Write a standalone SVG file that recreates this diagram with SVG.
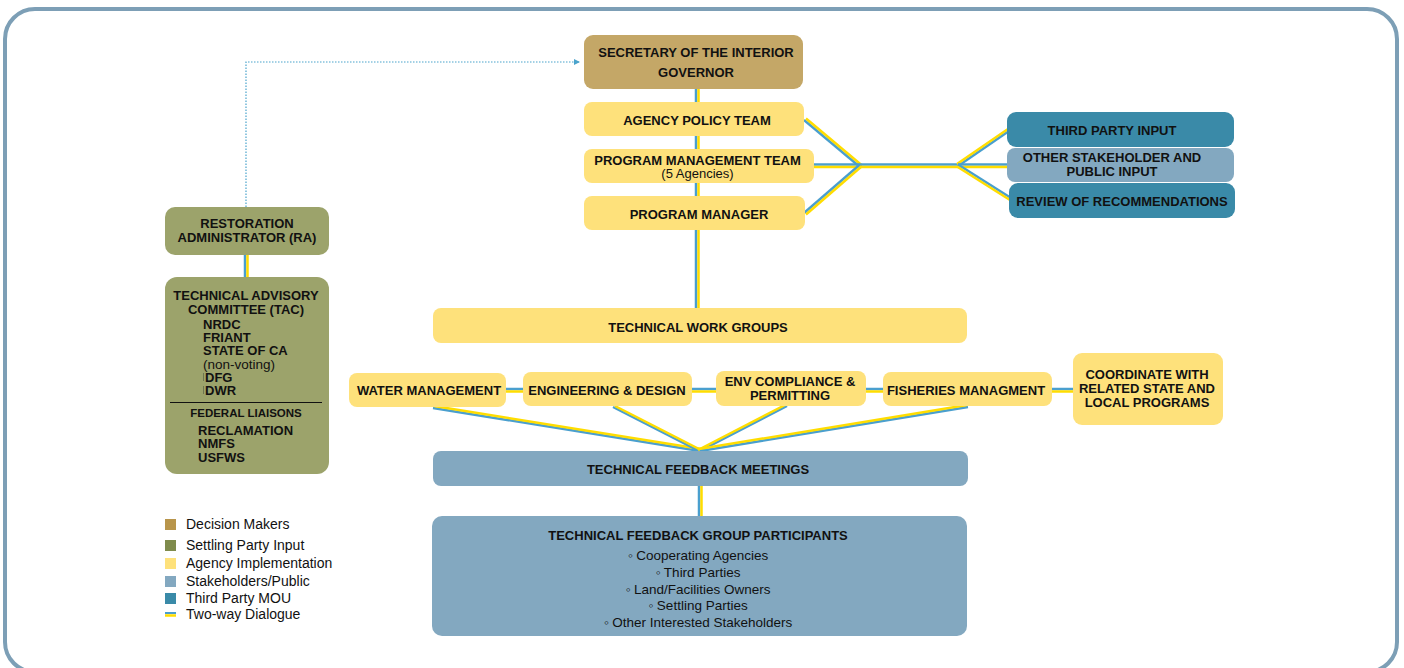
<svg xmlns="http://www.w3.org/2000/svg" width="1404" height="668" viewBox="0 0 1404 668">
<defs>
<marker id="arr" markerWidth="6" markerHeight="6" refX="5" refY="3" orient="auto" markerUnits="userSpaceOnUse">
<path d="M0,0 L6,3 L0,6 Z" fill="#4aa3cc"/>
</marker>
<style>
.t{font-family:"Liberation Sans",Arial,sans-serif;font-weight:bold;font-size:13px;fill:#111;text-anchor:middle}
.r{font-family:"Liberation Sans",Arial,sans-serif;font-size:13.5px;fill:#111;text-anchor:middle}
.s{font-family:"Liberation Sans",Arial,sans-serif;font-size:13px;fill:#111;text-anchor:middle}
.l{text-anchor:start}
.lg{font-family:"Liberation Sans",Arial,sans-serif;font-size:14px;fill:#111}
.dm{fill:#c4a767}
.sp{fill:#9ca36b}
.ai{fill:#fee17b}
.sh{fill:#83a8c0}
.tp{fill:#3a8aa8}
.b{stroke:#4a9fce;stroke-width:2.5;fill:none}
.y{stroke:#ffdd00;stroke-width:2.5;fill:none}
</style>
</defs>
<rect x="5" y="9" width="1392" height="663" rx="30" fill="#fff" stroke="#7d9fb6" stroke-width="4"/>

<g id="connectors">
<path d="M246,207 V62 H579" stroke="#4aa3cc" stroke-width="1.2" stroke-dasharray="1.5 1.5" fill="none" marker-end="url(#arr)"/>
<line class="b" x1="696" y1="89" x2="696" y2="308"/>
<line class="y" x1="698.5" y1="89" x2="698.5" y2="308"/>
<line class="b" x1="245" y1="255" x2="245" y2="277"/>
<line class="y" x1="247.5" y1="255" x2="247.5" y2="277"/>
<line class="b" x1="699" y1="486" x2="699" y2="516"/>
<line class="y" x1="701.5" y1="486" x2="701.5" y2="516"/>
<line class="b" x1="804" y1="120" x2="860" y2="167"/>
<line class="y" x1="806" y1="118.5" x2="862" y2="165.5"/>
<line class="b" x1="813" y1="164.5" x2="860" y2="164.5"/>
<line class="y" x1="813" y1="167" x2="860" y2="167"/>
<line class="b" x1="804" y1="213" x2="860" y2="164.5"/>
<line class="y" x1="806" y1="214.5" x2="862" y2="166"/>
<line class="b" x1="860" y1="164.5" x2="958" y2="164.5"/>
<line class="y" x1="860" y1="167" x2="958" y2="167"/>
<line class="b" x1="958" y1="166" x2="1009" y2="131"/>
<line class="y" x1="957" y1="164" x2="1008" y2="129"/>
<line class="b" x1="958" y1="164.5" x2="1008" y2="164.5"/>
<line class="y" x1="958" y1="167" x2="1008" y2="167"/>
<line class="b" x1="958" y1="164.5" x2="1011" y2="198"/>
<line class="y" x1="957" y1="166.5" x2="1010" y2="200"/>
<line class="b" x1="505" y1="389" x2="524" y2="389"/>
<line class="y" x1="505" y1="391.5" x2="524" y2="391.5"/>
<line class="b" x1="691" y1="389" x2="717" y2="389"/>
<line class="y" x1="691" y1="391.5" x2="717" y2="391.5"/>
<line class="b" x1="865" y1="389" x2="884" y2="389"/>
<line class="y" x1="865" y1="391.5" x2="884" y2="391.5"/>
<line class="b" x1="1051" y1="389" x2="1074" y2="389"/>
<line class="y" x1="1051" y1="391.5" x2="1074" y2="391.5"/>
<line class="b" x1="433" y1="408" x2="700" y2="451"/>
<line class="y" x1="434" y1="406" x2="701" y2="449"/>
<line class="b" x1="613" y1="407" x2="699" y2="451"/>
<line class="y" x1="615" y1="406" x2="701" y2="450"/>
<line class="b" x1="787" y1="406" x2="700" y2="451"/>
<line class="y" x1="785" y1="405" x2="698" y2="450"/>
<line class="b" x1="968" y1="407" x2="700" y2="451"/>
<line class="y" x1="967" y1="405" x2="699" y2="449"/>
</g>

<g id="secretary"><rect class="dm" x="584" y="35" width="219" height="54" rx="9"/>
<text class="t" x="696" y="57">SECRETARY OF THE INTERIOR</text><text class="t" x="696" y="77">GOVERNOR</text></g>
<g id="agency-policy-team"><rect class="ai" x="584" y="102" width="220" height="34" rx="8"/>
<text class="t" x="697" y="125">AGENCY POLICY TEAM</text></g>
<g id="program-management-team"><rect class="ai" x="584" y="149" width="230" height="34" rx="8"/>
<text class="t" x="697.5" y="165">PROGRAM MANAGEMENT TEAM</text><text class="s" x="697.5" y="178">(5 Agencies)</text></g>
<g id="program-manager"><rect class="ai" x="584" y="196" width="221" height="34" rx="8"/>
<text class="t" x="699" y="219">PROGRAM MANAGER</text></g>
<g id="technical-work-groups"><rect class="ai" x="433" y="308" width="534" height="35" rx="8"/>
<text class="t" x="698" y="332">TECHNICAL WORK GROUPS</text></g>
<g id="water-management"><rect class="ai" x="349" y="373" width="157" height="34" rx="8"/>
<text class="t" x="429" y="395">WATER MANAGEMENT</text></g>
<g id="engineering-design"><rect class="ai" x="523" y="372" width="169" height="34" rx="8"/>
<text class="t" x="607" y="395">ENGINEERING &amp; DESIGN</text></g>
<g id="env-compliance"><rect class="ai" x="716" y="371" width="150" height="35" rx="8"/>
<text class="t" x="790" y="386">ENV COMPLIANCE &amp;</text><text class="t" x="790" y="400">PERMITTING</text></g>
<g id="fisheries-management"><rect class="ai" x="883" y="372" width="169" height="34" rx="8"/>
<text class="t" x="966" y="395">FISHERIES MANAGMENT</text></g>
<g id="coordinate"><rect class="ai" x="1073" y="353" width="150" height="72" rx="9"/>
<text class="t" x="1147" y="379">COORDINATE WITH</text><text class="t" x="1147" y="393">RELATED STATE AND</text><text class="t" x="1147" y="407">LOCAL PROGRAMS</text></g>
<g id="technical-feedback-meetings"><rect class="sh" x="433" y="451" width="535" height="35" rx="8"/>
<text class="t" x="698" y="474">TECHNICAL FEEDBACK MEETINGS</text></g>
<g id="technical-feedback-group-participants"><rect class="sh" x="432" y="516" width="535" height="120" rx="10"/>
<text class="t" x="698" y="540">TECHNICAL FEEDBACK GROUP PARTICIPANTS</text>
<text class="r" x="698" y="560">◦ Cooperating Agencies</text>
<text class="r" x="698" y="577">◦ Third Parties</text>
<text class="r" x="698" y="594">◦ Land/Facilities Owners</text>
<text class="r" x="698" y="610">◦ Settling Parties</text>
<text class="r" x="698" y="627">◦ Other Interested Stakeholders</text></g>
<g id="third-party-input"><rect class="tp" x="1007" y="112" width="227" height="35" rx="9"/>
<text class="t" x="1112" y="135">THIRD PARTY INPUT</text></g>
<g id="other-stakeholder-input"><rect class="sh" x="1007" y="148" width="227" height="34" rx="8"/>
<text class="t" x="1112" y="162">OTHER STAKEHOLDER AND</text><text class="t" x="1112" y="176">PUBLIC INPUT</text></g>
<g id="review-of-recommendations"><rect class="tp" x="1009" y="183" width="226" height="35" rx="9"/>
<text class="t" x="1122" y="206">REVIEW OF RECOMMENDATIONS</text></g>
<g id="restoration-administrator"><rect class="sp" x="165" y="207" width="164" height="48" rx="10"/>
<text class="t" x="247" y="228">RESTORATION</text><text class="t" x="247" y="242">ADMINISTRATOR (RA)</text></g>
<g id="technical-advisory-committee"><rect class="sp" x="165" y="277" width="164" height="197" rx="12"/>
<text class="t" x="246" y="300">TECHNICAL ADVISORY</text><text class="t" x="246" y="314">COMMITTEE (TAC)</text>
<text class="t l" x="203" y="329">NRDC</text><text class="t l" x="203" y="342">FRIANT</text><text class="t l" x="203" y="355">STATE OF CA</text>
<text class="s l" x="203" y="369" style="font-size:13.5px">(non-voting)</text>
<line x1="203.5" y1="373" x2="203.5" y2="381" stroke="#6f7550" stroke-width="1"/>
<line x1="203.5" y1="386" x2="203.5" y2="394" stroke="#6f7550" stroke-width="1"/>
<text class="t l" x="205" y="382">DFG</text><text class="t l" x="205" y="395">DWR</text>
<line x1="170" y1="402.5" x2="322" y2="402.5" stroke="#111" stroke-width="1"/>
<text class="t" x="246" y="417" style="font-size:11.5px">FEDERAL LIAISONS</text>
<text class="t l" x="198" y="435">RECLAMATION</text><text class="t l" x="198" y="448">NMFS</text><text class="t l" x="198" y="462">USFWS</text></g>

<g id="legend">
<rect x="165" y="519" width="11" height="11" fill="#b8954b"/><text class="lg" x="186" y="529">Decision Makers</text>
<rect x="165" y="540" width="11" height="11" fill="#7f8b4c"/><text class="lg" x="186" y="550">Settling Party Input</text>
<rect x="165" y="558" width="11" height="11" fill="#fee17b"/><text class="lg" x="186" y="568">Agency Implementation</text>
<rect x="165" y="576" width="11" height="11" fill="#83a8c0"/><text class="lg" x="186" y="586">Stakeholders/Public</text>
<rect x="165" y="593" width="11" height="11" fill="#3a8aa8"/><text class="lg" x="186" y="603">Third Party MOU</text>
<line x1="165" y1="613" x2="176" y2="613" stroke="#4a9fce" stroke-width="2"/>
<line x1="165" y1="615.5" x2="176" y2="615.5" stroke="#ffdd00" stroke-width="2.5"/>
<text class="lg" x="186" y="619">Two-way Dialogue</text>
</g>
</svg>
